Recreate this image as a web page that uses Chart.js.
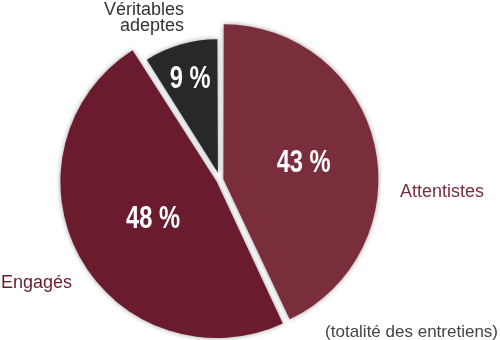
<!DOCTYPE html>
<html lang="fr">
<head>
    <meta charset="UTF-8">
    <title>Répartition des entretiens</title>
    <script src="https://cdn.jsdelivr.net/npm/chart.js"></script>
    <style>
        body {
            margin: 0;
            padding: 0;
            background-color: #ffffff;
        }
        .container {
            width: 500px;
            height: 340px;
        }
    </style>
</head>
<body>
    <div class="container">
        <canvas id="myChart" width="500" height="340"></canvas>
    </div>

    <script>
        // Data
        var categories = ['Attentistes', 'Engagés', 'Véritables adeptes'];
        var shares = [43, 48, 9];
        var valueLabels = ['43 %', '48 %', '9 %'];
        var note = '(totalité des entretiens)';

        var sliceColors = ['#7a2e3c', '#6a1b2d', '#27282a'];
        var textColors = ['#7a2e3c', '#6a1b2d', '#333333'];

        // Small arc for the "adeptes" slice, drop shadow, and all texts
        var piePlugin = {
            id: 'pieLabels',
            afterDatasetsUpdate: function (chart) {
                var arc = chart.getDatasetMeta(0).data[2];
                arc.outerRadius = arc.outerRadius * 0.85;
            },
            beforeDatasetsDraw: function (chart) {
                var c = chart.ctx;
                c.save();
                c.shadowColor = 'rgba(0,0,0,0.4)';
                c.shadowBlur = 5;
            },
            afterDatasetsDraw: function (chart) {
                chart.ctx.restore();
            },
            afterDraw: function (chart) {
                var c = chart.ctx;
                var meta = chart.getDatasetMeta(0);
                var area = chart.chartArea;
                var factors = [0.56, 0.5, 0.7];
                var base = meta.data[0].outerRadius;

                // percentages, condensed bold
                c.save();
                c.fillStyle = '#ffffff';
                c.font = 'bold 32px "Liberation Sans", Arial, sans-serif';
                c.textAlign = 'center';
                c.textBaseline = 'middle';
                meta.data.forEach(function (arc, i) {
                    var mid = (arc.startAngle + arc.endAngle) / 2;
                    var d = base * factors[i];
                    c.save();
                    c.translate(arc.x + Math.cos(mid) * d, arc.y + Math.sin(mid) * d + 2);
                    c.scale(0.74, 1);
                    c.fillText(valueLabels[i], 0, 0);
                    c.restore();
                });
                c.restore();

                c.save();
                c.font = '18px "Liberation Sans", Arial, sans-serif';
                c.textBaseline = 'alphabetic';

                // Attentistes
                c.fillStyle = textColors[0];
                c.textAlign = 'left';
                c.fillText(categories[0], area.right - 40, 197);

                // Engagés
                c.fillStyle = textColors[1];
                c.textAlign = 'right';
                c.fillText(categories[1], 72, 288);

                // Véritables adeptes (two lines)
                c.fillStyle = textColors[2];
                var words = categories[2].split(' ');
                c.fillText(words[0], 184, 15);
                c.fillText(words[1], 184, 31);

                // note
                c.font = '17px "Liberation Sans", Arial, sans-serif';
                c.fillStyle = '#444444';
                c.fillText(note, 498, 337);
                c.restore();
            }
        };

        var ctx = document.getElementById('myChart').getContext('2d');
        var myChart = new Chart(ctx, {
            type: 'pie',
            data: {
                labels: categories,
                datasets: [{
                    data: shares,
                    backgroundColor: sliceColors,
                    borderWidth: 0,
                    offset: [14, 15, 30],
                    hoverOffset: 0,
                    radius: 153
                }]
            },
            options: {
                responsive: false,
                animation: false,
                radius: 153,
                layout: {
                    padding: { left: 0, right: 60, top: 20, bottom: 0 }
                },
                plugins: {
                    legend: { display: false },
                    tooltip: { enabled: false }
                },
                events: []
            },
            plugins: [piePlugin]
        });
    </script>
</body>
</html>
